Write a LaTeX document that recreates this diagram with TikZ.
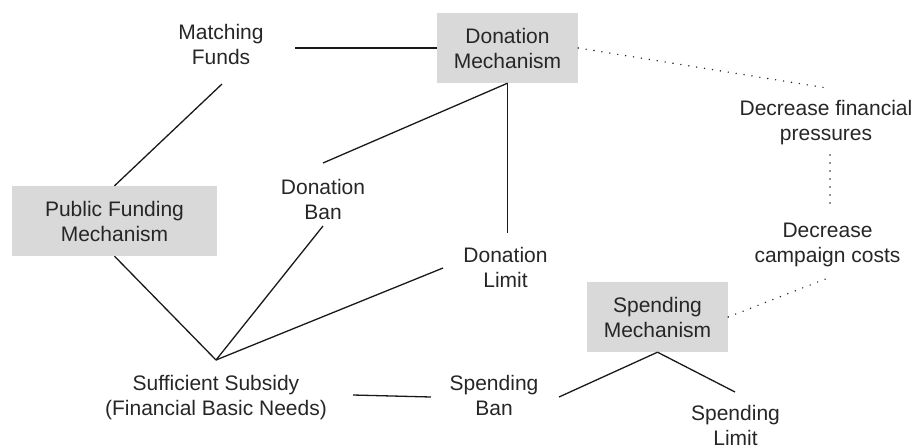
\documentclass[tikz,border=0pt]{standalone}
\usepackage{fontspec}
\setmainfont{Liberation Sans}
\usetikzlibrary{calc}
\definecolor{boxgray}{HTML}{D9D9D9}
\definecolor{ink}{HTML}{262626}
\begin{document}
\begin{tikzpicture}[x=1pt,y=-1pt,
  every node/.style={font=\fontsize{21}{25}\selectfont, text=ink, align=center},
  txt/.style={inner sep=0pt, anchor=north},
  mech/.style={fill=boxgray, inner sep=0pt, minimum height=70pt},
  link/.style={line width=1.3pt, draw=black!90},
  hint/.style={line width=1.6pt, line cap=round, dash pattern=on 0pt off 8pt, draw=black!85}]
\useasboundingbox (0,0) rectangle (918,445);

% mechanisms (shaded boxes)
\node[mech, minimum width=141pt] (dm) at (507.5,48) {Donation\\Mechanism};
\node[mech, minimum width=205pt] (pf) at (114.5,221) {Public Funding\\Mechanism};
\node[mech, minimum width=141pt] (sm) at (657.5,317) {Spending\\Mechanism};

% plain labels
\node[txt] (mf)  at (221,24)    {Matching\\Funds};
\node[txt] (db)  at (323,179)   {Donation\\Ban};
\node[txt] (dl)  at (505.5,247) {Donation\\Limit};
\node[txt] (dfp) at (826,100)   {Decrease financial\\pressures};
\node[txt] (dcc) at (827.5,223) {Decrease\\campaign costs};
\node[txt] (ss)  at (216,375)   {Sufficient Subsidy\\(Financial Basic Needs)};
\node[txt] (sb)  at (494,375)   {Spending\\Ban};
\node[txt] (sl)  at (735.5,405) {Spending\\Limit};

% solid relations
\draw[link] ($(mf.north)+(74,24)$) -- (dm.west);
\draw[link] ($(mf.north)+(1,60)$) -- (pf.north);
\draw[link] (dm.south) -- ($(db.north)+(0,-16)$);
\draw[link] (dm.south) -- ($(dm.south |- dl.north)+(0,-14)$);
\draw[link] (pf.south) -- ($(ss.north)+(0,-15)$);
\draw[link] ($(ss.north)+(0,-15)$) -- ($(db.north)+(0,47)$);
\draw[link] ($(ss.north)+(0,-15)$) -- ($(dl.north)+(-62.5,21)$);
\draw[link] ($(ss.north)+(137,20)$) -- ($(sb.north)+(-63,22)$);
\draw[link] (sm.south) -- ($(sb.north)+(65,22)$);
\draw[link] (sm.south) -- ($(sl.north)+(-0.5,-13)$);

% dotted effects
\draw[hint] (dm.east) -- ($(dfp.north)+(1,-12)$);
\draw[hint] ($(dfp.north)+(4,55)$) -- ($(dcc.north)+(2.5,-15)$);
\draw[hint] (sm.east) -- ($(dcc.north)+(0.5,55)$);
\end{tikzpicture}
\end{document}
